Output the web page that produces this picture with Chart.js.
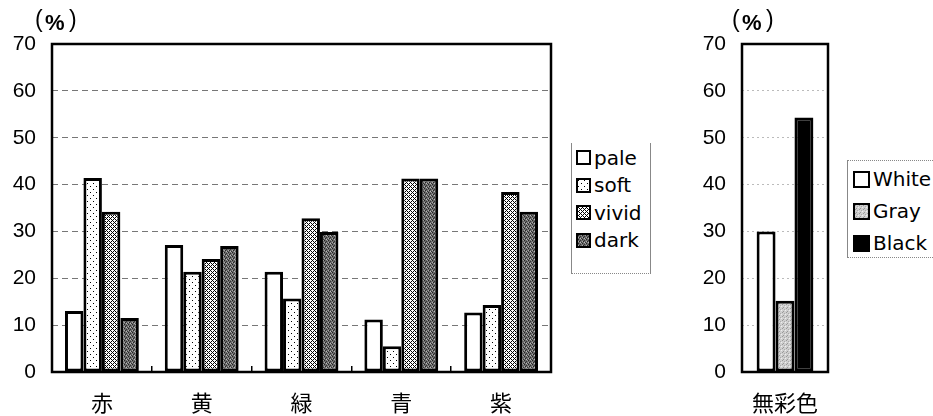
<!DOCTYPE html>
<html>
<head>
<meta charset="utf-8">
<script src="https://cdn.jsdelivr.net/npm/chart.js@4"></script>
<style>
  body { margin: 0; background: #fff; width: 933px; height: 416px; overflow: hidden; position: relative; }
  .wrap { position: absolute; top: 0; }
  .legend { position: absolute; background: #fff; font-family: "DejaVu Sans", sans-serif; color: #000; box-sizing: border-box; }
  .legend .item { display: flex; align-items: center; }
  .legend .sw { border: 2px solid #000; box-sizing: border-box; margin-right: 3px; flex: none; }
</style>
</head>
<body>
<div class="wrap" style="left:0;width:660px;height:416px"><canvas id="hueChart"></canvas></div>
<div class="wrap" style="left:690px;width:243px;height:416px"><canvas id="achroChart"></canvas></div>
<div class="legend" id="hueLegend" style="left:571px;top:143px;width:80px;height:131px;padding:1px 0 0 4px;font-size:20px;border-left:1px solid #888;border-right:1px solid #888;border-bottom:1px dotted #888;"></div>
<div class="legend" id="achroLegend" style="left:847px;top:160px;width:90px;height:98px;padding:2px 0 0 5px;font-size:20px;border-left:1px solid #888;border-top:1px dotted #888;border-bottom:1px dotted #888;"></div>

<script>
// chart data
const hueCategories = ['赤', '黄', '緑', '青', '紫'];
const paleValues  = [13.0, 27.1, 21.4, 11.2, 12.7];
const softValues  = [41.4, 21.4, 15.7, 5.5, 14.3];
const vividValues = [34.2, 24.1, 32.8, 41.3, 38.4];
const darkValues  = [11.5, 26.9, 29.9, 41.3, 34.2];

const achroCategories = ['無彩色'];
const whiteValues = [30.0];
const grayValues  = [15.2];
const blackValues = [54.3];

const yTicks = [0, 10, 20, 30, 40, 50, 60, 70];

// small tile patterns so the bars look like the printed hatching
function makePattern(size, base, dots) {
    const c = document.createElement('canvas');
    c.width = size; c.height = size;
    const g = c.getContext('2d');
    g.fillStyle = base;
    g.fillRect(0, 0, size, size);
    dots.forEach(d => {
        g.fillStyle = d[2];
        g.fillRect(d[0], d[1], 1, 1);
    });
    return c;
}

const tiles = {
    pale: makePattern(4, '#ffffff', []),
    soft: makePattern(6, '#ffffff', [[0, 0, '#000'], [3, 3, '#000']]),
    vivid: makePattern(4, '#ffffff', [[0, 0, '#000'], [1, 1, '#000'], [2, 2, '#000'], [3, 3, '#000'], [1, 3, '#000'], [3, 1, '#000']]),
    dark: makePattern(4, '#6a6a6a', [[0, 0, '#222'], [2, 1, '#333'], [1, 2, '#222'], [3, 3, '#333'], [2, 3, '#bbb'], [0, 2, '#aaa'], [3, 0, '#999']]),
    white: makePattern(4, '#ffffff', []),
    gray: makePattern(4, '#cfcfcf', [[0, 0, '#999'], [2, 1, '#aaa'], [1, 3, '#999'], [3, 2, '#eee']]),
    black: makePattern(4, '#000000', [])
};

function fillOf(name) {
    const ctx = document.createElement('canvas').getContext('2d');
    return ctx.createPattern(tiles[name], 'repeat');
}

// plot frame and the (%) unit label
const framePlugin = {
    id: 'frame',
    afterDraw(chart, args, opts) {
        const a = chart.chartArea;
        const ctx = chart.ctx;
        ctx.save();
        ctx.strokeStyle = '#000';
        ctx.lineWidth = 2.5;
        ctx.strokeRect(a.left, a.top, a.right - a.left, a.bottom - a.top);
        ctx.fillStyle = '#000';
        ctx.textBaseline = 'middle';
        ctx.textAlign = 'left';
        const x = a.left + opts.unitDx;
        const y = a.top - 20;
        ctx.font = '23px "Liberation Sans", Arial, sans-serif';
        ctx.fillText('(', x, y - 3);
        ctx.fillText(')', x + 34, y - 3);
        ctx.font = 'bold 22px "Liberation Sans", Arial, sans-serif';
        ctx.fillText('%', x + 10, y);
        ctx.restore();
    }
};

function makeChart(id, labels, series, opts) {
    return new Chart(document.getElementById(id), {
        type: 'bar',
        data: {
            labels: labels,
            datasets: series.map(s => ({
                label: s.label,
                data: s.data,
                backgroundColor: fillOf(s.tile),
                borderColor: '#000',
                borderWidth: 3,
                borderSkipped: false,
                categoryPercentage: opts.catPct,
                barPercentage: 1.0
            }))
        },
        options: {
            responsive: true,
            maintainAspectRatio: false,
            animation: false,
            devicePixelRatio: 1,
            layout: { padding: { left: 0, right: opts.padRight, top: 44, bottom: 0 } },
            plugins: {
                legend: { display: false },
                tooltip: { enabled: false },
                frame: { unitDx: opts.unitDx }
            },
            scales: {
                x: {
                    grid: {
                        offset: true,
                        drawOnChartArea: false,
                        drawTicks: true,
                        tickLength: -6,
                        color: '#000',
                        lineWidth: 1.5
                    },
                    border: { display: false },
                    ticks: {
                        color: '#000',
                        padding: 23,
                        font: { family: '"Noto Sans CJK JP"', size: 22 }
                    },
                    afterFit: s => { s.height = 44; }
                },
                y: {
                    min: 0,
                    max: 70,
                    afterBuildTicks: s => { s.ticks = yTicks.map(v => ({ value: v })); },
                    grid: {
                        color: ctx => (ctx.tick.value === 0 || ctx.tick.value === 70) ? 'rgba(0,0,0,0)' : opts.gridColor,
                        drawTicks: false,
                        lineWidth: 1
                    },
                    border: { display: false, dash: opts.gridDash },
                    ticks: {
                        color: '#000',
                        padding: 16,
                        font: { family: '"Liberation Sans", Arial, sans-serif', size: 21 }
                    },
                    afterFit: s => { s.width = 52; }
                }
            }
        },
        plugins: [framePlugin]
    });
}

makeChart('hueChart', hueCategories, [
    { label: 'pale', data: paleValues, tile: 'pale' },
    { label: 'soft', data: softValues, tile: 'soft' },
    { label: 'vivid', data: vividValues, tile: 'vivid' },
    { label: 'dark', data: darkValues, tile: 'dark' }
], { catPct: 0.74, padRight: 109, gridColor: '#777', gridDash: [6, 4], unitDx: -17 });

makeChart('achroChart', achroCategories, [
    { label: 'White', data: whiteValues, tile: 'white' },
    { label: 'Gray', data: grayValues, tile: 'gray' },
    { label: 'Black', data: blackValues, tile: 'black' }
], { catPct: 0.66, padRight: 105, gridColor: '#bbb', gridDash: [2, 3], unitDx: -10 });

// legends as html, swatches taken from the same tiles
function buildLegend(id, names, swatch, rowHeight) {
    const el = document.getElementById(id);
    names.forEach(n => {
        const row = document.createElement('div');
        row.className = 'item';
        row.style.height = rowHeight + 'px';
        const sw = document.createElement('span');
        sw.className = 'sw';
        sw.style.width = swatch + 'px';
        sw.style.height = swatch + 'px';
        sw.style.background = 'url(' + tiles[n.toLowerCase()].toDataURL() + ')';
        row.appendChild(sw);
        row.appendChild(document.createTextNode(n));
        el.appendChild(row);
    });
}

buildLegend('hueLegend', ['pale', 'soft', 'vivid', 'dark'], 15, 27.5);
buildLegend('achroLegend', ['White', 'Gray', 'Black'], 17, 32);
</script>
</body>
</html>
